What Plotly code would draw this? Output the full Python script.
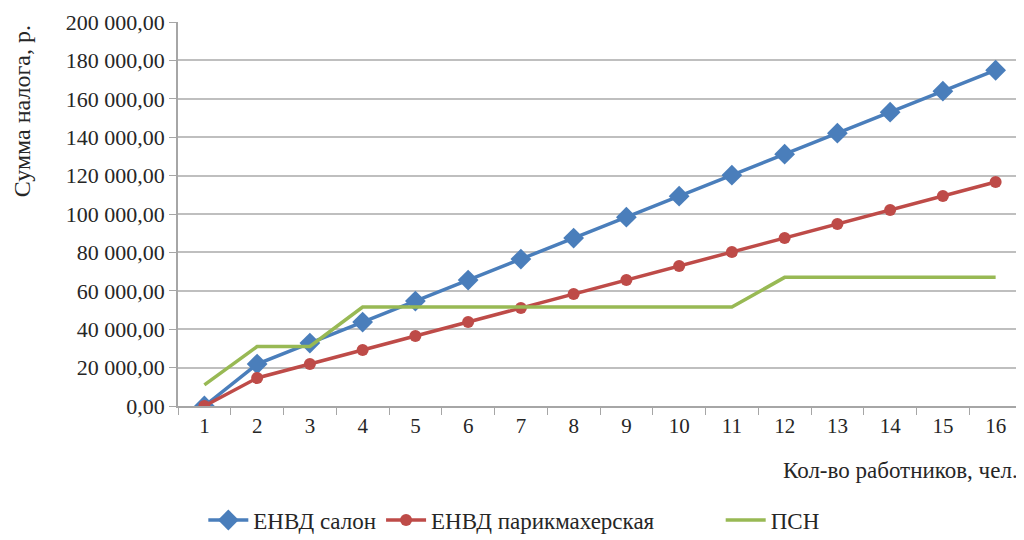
import plotly.graph_objects as go

workers = [str(i) for i in range(1, 17)]
envd_salon = [0, 21860, 32790, 43720, 54650, 65580, 76510, 87440, 98370, 109300,
              120230, 131160, 142090, 153020, 163950, 174880]
envd_parik = [0, 14580, 21870, 29160, 36450, 43740, 51030, 58320, 65610, 72900,
              80190, 87480, 94770, 102060, 109350, 116640]
psn = [11000, 31000, 31000, 51500, 51500, 51500, 51500, 51500, 51500, 51500,
       51500, 67000, 67000, 67000, 67000, 67000]
y_ticks = [0, 20000, 40000, 60000, 80000, 100000, 120000, 140000, 160000, 180000, 200000]
y_ticktext = ["0,00", "20 000,00", "40 000,00", "60 000,00", "80 000,00", "100 000,00",
              "120 000,00", "140 000,00", "160 000,00", "180 000,00", "200 000,00"]

FONT = "Liberation Serif, Times New Roman, serif"
TXT = "#262626"
fig = go.Figure()
fig.add_trace(go.Scatter(x=workers, y=envd_salon, name="ЕНВД салон", mode="lines+markers",
                         line=dict(color="#4A7EBB", width=3.5),
                         marker=dict(symbol="diamond", size=16, color="#4A7EBB"),
                         legend="legend"))
fig.add_trace(go.Scatter(x=workers, y=envd_parik, name="ЕНВД парикмахерская", mode="lines+markers",
                         line=dict(color="#BE4B48", width=3.5),
                         marker=dict(symbol="circle", size=12, color="#BE4B48"),
                         legend="legend"))
fig.add_trace(go.Scatter(x=workers, y=psn, name="ПСН", mode="lines",
                         line=dict(color="#98B954", width=3.5),
                         legend="legend2"))

fig.update_layout(
    width=1016, height=532,
    margin=dict(l=170, r=2, t=14, b=134, autoexpand=False),
    paper_bgcolor="white", plot_bgcolor="white",
    font=dict(family=FONT, size=21, color=TXT),
    showlegend=True,
    legend=dict(orientation="h", x=0.03, xanchor="left", y=-0.297, yanchor="middle",
                font=dict(family=FONT, size=23, color=TXT), traceorder="normal",
                itemwidth=40, bgcolor="rgba(0,0,0,0)"),
    legend2=dict(orientation="h", x=0.643, xanchor="left", y=-0.297, yanchor="middle",
                 font=dict(family=FONT, size=23, color=TXT),
                 itemwidth=40, bgcolor="rgba(0,0,0,0)"),
    xaxis=dict(type="category", range=[-0.5, 15.5], showgrid=False, automargin=False,
               showline=True, linecolor="#A6A6A6", linewidth=1.5,
               ticks="outside", tickson="boundaries", ticklen=7, tickcolor="#A6A6A6",
               tickfont=dict(family=FONT, size=21, color=TXT)),
    yaxis=dict(range=[0, 200000], tickvals=y_ticks, ticktext=y_ticktext, automargin=False,
               showgrid=True, gridcolor="#BFBFBF", gridwidth=1.5,
               showline=True, linecolor="#A6A6A6", linewidth=1.5,
               ticks="outside", ticklen=7, tickcolor="#A6A6A6",
               tickfont=dict(family=FONT, size=22, color=TXT), zeroline=False),
    annotations=[
        dict(text="Сумма налога, р.", xref="paper", yref="paper", x=-0.1848, y=0.997,
             xanchor="center", yanchor="top", textangle=-90, showarrow=False,
             font=dict(family=FONT, size=24, color=TXT)),
        dict(text="Кол-во работников, чел.", xref="paper", yref="paper", x=0.9976, y=-0.1667,
             xanchor="right", yanchor="middle", showarrow=False,
             font=dict(family=FONT, size=23, color=TXT)),
    ],
)
fig.write_html("out.html")
